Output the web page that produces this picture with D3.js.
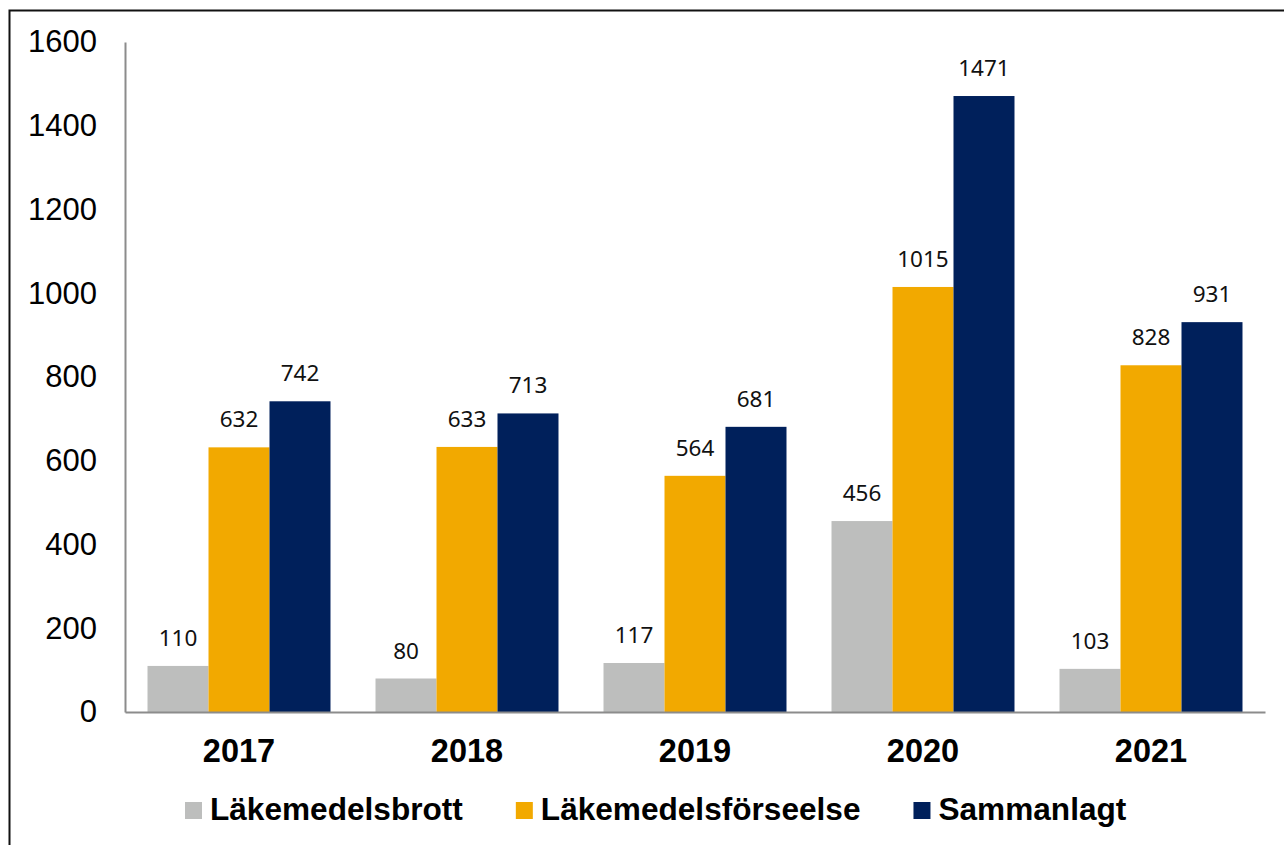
<!DOCTYPE html>
<html>
<head>
<meta charset="utf-8">
<script src="https://cdn.jsdelivr.net/npm/d3@7"></script>
<style>
  body { margin: 0; background: #fff; }
</style>
</head>
<body>
<div id="my_dataviz"></div>
<script>
// data
const years = ["2017", "2018", "2019", "2020", "2021"];
const seriesNames = ["Läkemedelsbrott", "Läkemedelsförseelse", "Sammanlagt"];
const brott = [110, 80, 117, 456, 103];
const forseelse = [632, 633, 564, 1015, 828];
const sammanlagt = [742, 713, 681, 1471, 931];
const yTicks = [0, 200, 400, 600, 800, 1000, 1200, 1400, 1600];

const colors = ["#bdbebd", "#f2a900", "#00205b"];

const W = 1284, H = 845;
const margin = {top: 42, right: 19, bottom: 133, left: 125};

const svg = d3.select("#my_dataviz")
  .append("svg")
    .attr("width", W)
    .attr("height", H);

// outer frame (right/bottom run off the picture)
svg.append("rect")
  .attr("x", 9.5).attr("y", 10.5)
  .attr("width", W + 20).attr("height", H + 20)
  .attr("fill", "none")
  .attr("stroke", "#111")
  .attr("stroke-width", 2);

const rows = years.map((yr, i) => ({
  year: yr,
  values: [brott[i], forseelse[i], sammanlagt[i]]
}));

const x0 = d3.scaleBand()
  .domain(years)
  .range([margin.left, W - margin.right])
  .padding(0);

const x1 = d3.scaleBand()
  .domain(d3.range(seriesNames.length))
  .range([0, x0.bandwidth()])
  .paddingInner(0)
  .paddingOuter(0.369);

const y = d3.scaleLinear()
  .domain([0, 1600])
  .range([H - margin.bottom, margin.top]);

// y axis
const yAxis = svg.append("g")
  .attr("transform", `translate(${margin.left},0)`)
  .call(d3.axisLeft(y).tickValues(yTicks).tickFormat(d3.format("d"))
    .tickSize(0).tickSizeOuter(0).tickPadding(28));
yAxis.select(".domain").attr("stroke", "#8c8c8c").attr("stroke-width", 2);
yAxis.selectAll("text")
  .attr("font-family", "Liberation Sans, Arial, sans-serif")
  .attr("font-size", 31)
  .attr("fill", "#000");

// bars
const groups = svg.append("g")
  .selectAll("g")
  .data(rows)
  .join("g")
    .attr("transform", d => `translate(${x0(d.year)},0)`);

groups.selectAll("rect")
  .data(d => d.values.map((v, k) => ({k, v})))
  .join("rect")
    .attr("x", d => x1(d.k))
    .attr("y", d => y(d.v))
    .attr("width", x1.bandwidth())
    .attr("height", d => y(0) - y(d.v))
    .attr("fill", d => colors[d.k]);

// value labels
groups.selectAll("text")
  .data(d => d.values.map((v, k) => ({k, v})))
  .join("text")
    .attr("x", d => x1(d.k) + x1.bandwidth() / 2)
    .attr("y", d => y(d.v) - 20)
    .attr("text-anchor", "middle")
    .attr("font-family", "Noto Sans, sans-serif")
    .attr("font-size", 22.5)
    .attr("fill", "#111")
    .text(d => d.v);

// x axis (baseline + year labels)
const xAxis = svg.append("g")
  .attr("transform", `translate(0,${y(0)})`)
  .call(d3.axisBottom(x0).tickSize(0).tickSizeOuter(0).tickPadding(27));
xAxis.select(".domain").attr("stroke", "#8c8c8c").attr("stroke-width", 2);
xAxis.selectAll("text")
  .attr("font-family", "Liberation Sans, Arial, sans-serif")
  .attr("font-size", 32.5)
  .attr("font-weight", "bold")
  .attr("fill", "#000");

// legend
const legend = svg.append("g");
let lx = 185;
seriesNames.forEach((name, k) => {
  legend.append("rect")
    .attr("x", lx).attr("y", 802)
    .attr("width", 17).attr("height", 17)
    .attr("fill", colors[k]);
  const t = legend.append("text")
    .attr("x", lx + 25).attr("y", 820)
    .attr("font-family", "Liberation Sans, Arial, sans-serif")
    .attr("font-size", 31.6)
    .attr("font-weight", "bold")
    .attr("fill", "#000")
    .text(name);
  lx = lx + 25 + t.node().getComputedTextLength() + 53;
});
</script>
</body>
</html>
